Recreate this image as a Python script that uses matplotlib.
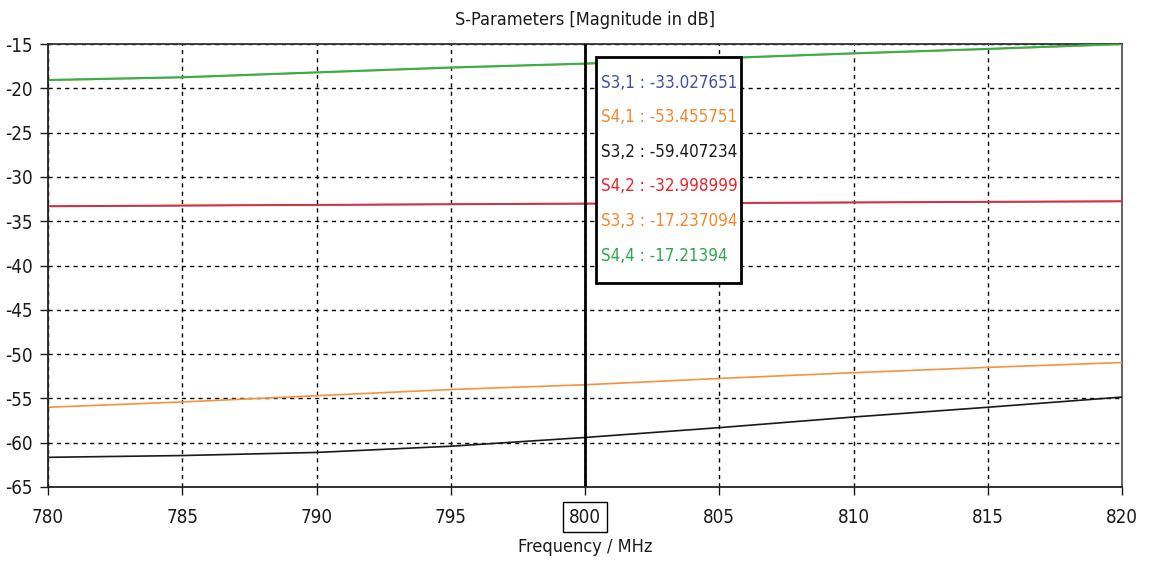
import matplotlib
matplotlib.use("Agg")
import matplotlib.pyplot as plt
from matplotlib.patches import Rectangle

plt.rcParams['font.family'] = ['DejaVu Sans']
plt.rcParams['font.stretch'] = 'condensed'

freq = [780, 785, 790, 795, 800, 805, 810, 815, 820]
s31 = [-33.33, -33.25, -33.17, -33.10, -33.03, -32.96, -32.90, -32.83, -32.77]
s41 = [-56.0, -55.4, -54.7, -54.0, -53.46, -52.75, -52.1, -51.5, -50.95]
s32 = [-61.65, -61.45, -61.1, -60.4, -59.41, -58.3, -57.1, -56.0, -54.85]
s42 = [-33.30, -33.22, -33.15, -33.07, -33.00, -32.93, -32.87, -32.80, -32.74]
s33 = [-19.09, -18.78, -18.23, -17.68, -17.24, -16.63, -16.08, -15.58, -15.03]
s44 = [-19.06, -18.75, -18.20, -17.65, -17.21, -16.60, -16.05, -15.55, -15.00]

series_names = ["S3,1", "S4,1", "S3,2", "S4,2", "S3,3", "S4,4"]
cursor_values = ["-33.027651", "-53.455751", "-59.407234", "-32.998999", "-17.237094", "-17.21394"]
line_colors = ["#3f4fb0", "#f7913d", "#1a1a1a", "#ee2a2a", "#f7913d", "#33b24a"]
line_widths = [1.2, 1.2, 1.2, 1.2, 1.2, 1.5]
text_colors = ["#4050a8", "#f5862a", "#1a1a1a", "#e8232a", "#f5862a", "#2aa84a"]
cursor_freq = 800

xticks = [780, 785, 790, 795, 800, 805, 810, 815, 820]
yticks = [-15, -20, -25, -30, -35, -40, -45, -50, -55, -60, -65]

fig = plt.figure(figsize=(11.62, 5.67), dpi=100)
ax = fig.add_axes([48/1162, 1-487/567, (1122-48)/1162, (487-44)/567])

all_series = [s31, s41, s32, s42, s33, s44]
for ys, c, w in zip(all_series, line_colors, line_widths):
    ax.plot(freq, ys, color=c, lw=w, zorder=3)

ax.set_xlim(780, 820)
ax.set_ylim(-65, -15)
ax.set_xticks(xticks)
ax.set_yticks(yticks)
ax.set_xticklabels([str(t) for t in xticks])
ax.set_yticklabels([str(t) for t in yticks])
ax.tick_params(axis='both', direction='out', length=6, width=1, labelsize=13.5, colors='#1a1a1a', pad=5)
ax.tick_params(axis='x', pad=9)

ax.grid(True, color='black', linestyle=(0, (3, 3)), linewidth=1.0, zorder=1)
for side in ['left', 'bottom']:
    ax.spines[side].set_linewidth(1.3)
    ax.spines[side].set_color('#222222')
    ax.spines[side].set_zorder(5)
ax.spines['top'].set_color('#333333')
ax.spines['top'].set_linewidth(1.3)
ax.spines['right'].set_color('#666666')
ax.spines['right'].set_linewidth(1.5)

ax.axvline(cursor_freq, color='black', lw=2.0, zorder=4)

# boxed label for cursor tick
for lbl in ax.get_xticklabels():
    if lbl.get_text() == str(cursor_freq):
        lbl.set_bbox(dict(boxstyle='square,pad=0.3', facecolor='white', edgecolor='black', linewidth=1.0))

ax.set_title("S-Parameters [Magnitude in dB]", fontsize=13, color='#1a1a1a', pad=14)
ax.set_xlabel("Frequency / MHz", fontsize=13, color='#1a1a1a', labelpad=8)

# cursor info box
bx0, bx1 = (596-48)/1074, (741-48)/1074
by0, by1 = 1-(283-44)/443, 1-(57-44)/443
ax.add_patch(Rectangle((bx0, by0), bx1-bx0, by1-by0, transform=ax.transAxes,
                       facecolor='white', edgecolor='black', linewidth=2.0, zorder=6))
ytext = [83, 117, 152, 186, 221, 256]
for name, val, c, yp in zip(series_names, cursor_values, text_colors, ytext):
    ax.text((601-48)/1074, 1-(yp-44)/443, f"{name} : {val}", transform=ax.transAxes,
            color=c, fontsize=12.2, va='center', ha='left', zorder=7)

fig.savefig("out.png", dpi=100)
